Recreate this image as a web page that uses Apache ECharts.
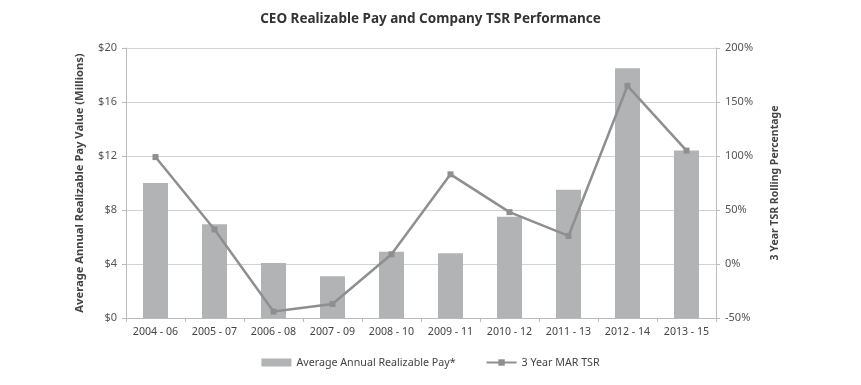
<!DOCTYPE html>
<html>
<head>
<meta charset="utf-8">
<script src="https://cdn.jsdelivr.net/npm/echarts@6/dist/echarts.min.js"></script>
<style>html,body{margin:0;padding:0;background:#fff;}#c{width:861px;height:385px;}</style>
</head>
<body>
<div id="c"></div>
<script>
const categories = ['2004 - 06','2005 - 07','2006 - 08','2007 - 09','2008 - 10','2009 - 11','2010 - 12','2011 - 13','2012 - 14','2013 - 15'];
const payValues = [10.0, 6.95, 4.07, 3.1, 4.9, 4.8, 7.5, 9.5, 18.5, 12.4];
const tsrValues = [99, 32, -44, -37, 9, 83, 48, 26, 165, 105];
const leftTicks = ['$0','$4','$8','$12','$16','$20'];
const rightTicks = ['-50%','0%','50%','100%','150%','200%'];

const font = 'Noto Sans';
const chart = echarts.init(document.getElementById('c'));
chart.setOption({
  animation: false,
  textStyle: {fontFamily: font},
  title: {
    text: 'CEO Realizable Pay and Company TSR Performance',
    left: 'center', top: 7,
    textStyle: {fontFamily: font, fontSize: 13.5, fontWeight: 'bold', color: '#333'}
  },
  grid: {left: 126, right: 145, top: 48, bottom: 67},
  legend: {
    bottom: 12, left: 'center', itemGap: 30,
    textStyle: {fontFamily: font, fontSize: 10.7, color: '#444'},
    data: [
      {name: 'Average Annual Realizable Pay*', icon: 'rect', itemStyle: {color: '#b2b3b5'}},
      {name: '3 Year MAR TSR'}
    ],
    itemWidth: 30, itemHeight: 8
  },
  xAxis: {
    type: 'category', data: categories,
    axisLine: {lineStyle: {color: '#bbb'}},
    axisTick: {show: true, alignWithLabel: false, length: 4, lineStyle: {color: '#bbb'}},
    axisLabel: {fontFamily: font, fontSize: 10.6, color: '#444', margin: 8, interval: 0}
  },
  yAxis: [
    {
      type: 'value', min: 0, max: 20, interval: 4,
      name: 'Average Annual Realizable Pay Value (Millions)',
      nameLocation: 'middle', nameGap: 41,
      nameTextStyle: {fontFamily: font, fontSize: 11.2, fontWeight: 'bold', color: '#444'},
      axisLine: {show: true, lineStyle: {color: '#bbb'}},
      axisTick: {show: true, length: 4, lineStyle: {color: '#bbb'}},
      axisLabel: {fontFamily: font, fontSize: 11, color: '#555', margin: 9,
        formatter: v => leftTicks[Math.round(v / 4)]},
      splitLine: {lineStyle: {color: '#d2d2d2'}}
    },
    {
      type: 'value', min: -50, max: 200, interval: 50,
      name: '3 Year TSR Rolling Percentage',
      nameLocation: 'middle', nameGap: 54, nameRotate: 90,
      nameTextStyle: {fontFamily: font, fontSize: 10.5, fontWeight: 'bold', color: '#444'},
      axisLine: {show: true, lineStyle: {color: '#bbb'}},
      axisTick: {show: true, length: 4, lineStyle: {color: '#bbb'}},
      axisLabel: {fontFamily: font, fontSize: 11, color: '#555', margin: 9,
        formatter: v => rightTicks[Math.round((v + 50) / 50)]},
      splitLine: {show: false}
    }
  ],
  series: [
    {
      name: 'Average Annual Realizable Pay*', type: 'bar', yAxisIndex: 0,
      data: payValues, barWidth: 25,
      itemStyle: {color: '#b2b3b5'}
    },
    {
      name: '3 Year MAR TSR', type: 'line', yAxisIndex: 1,
      data: tsrValues, symbol: 'rect', symbolSize: 6,
      lineStyle: {color: '#8f8f8f', width: 2.5},
      itemStyle: {color: '#8f8f8f'}
    }
  ]
});
</script>
</body>
</html>
